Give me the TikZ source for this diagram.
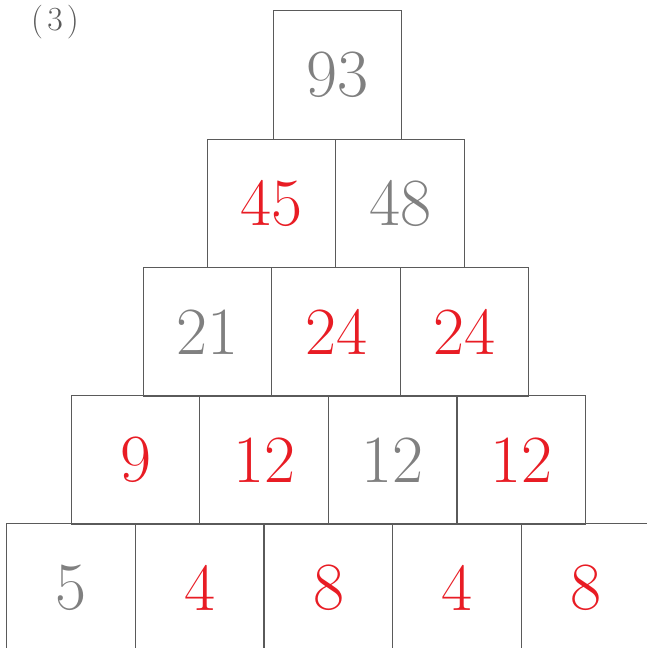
\documentclass[tikz,border=0pt]{standalone}
\usepackage{tikz}
\usetikzlibrary{positioning}
\definecolor{numgray}{RGB}{128, 128, 128}
\definecolor{numred}{RGB}{232, 28, 36}
\definecolor{linegray}{RGB}{90, 90, 90}
\tikzset{
  brick/.style={
    draw=linegray, line width=0.85pt,
    minimum width=3.2125cm,
    minimum height=3.2125cm,
    inner sep=0pt, outer sep=0pt,
    font=\fontsize{48}{48}\selectfont
  },
  given/.style={brick, text=numgray},
  found/.style={brick, text=numred}
}
\begin{document}
\begin{tikzpicture}[x=0.025cm, y=-0.025cm]
\useasboundingbox (0,0) rectangle (646,648);

% label
\node[font=\fontsize{24}{24}\selectfont, text=numgray!70!black] (tag) at (55, 22) {(\kern3pt3\kern3pt)};

% row 1 (top)
\node[given] (r1a) at (337.5, 75) {93};

% row 2
\node[found] (r2a) at (271.5, 203.5) {45};
\node[given] (r2b) at (400, 203.5) {48};

% row 3
\node[given] (r3a) at (207.5, 332) {21};
\node[found] (r3b) at (336, 332) {24};
\node[found] (r3c) at (464.5, 332) {24};

% row 4
\node[found] (r4a) at (135.5, 460) {9};
\node[found] (r4b) at (264, 460) {12};
\node[given] (r4c) at (392.5, 460) {12};
\node[found] (r4d) at (521.5, 460) {12};

% row 5 (bottom, runs off the page)
\node[given] (r5a) at (71, 588) {5};
\node[found] (r5b) at (199.5, 588) {4};
\node[found] (r5c) at (328.5, 588) {8};
\node[found] (r5d) at (457, 588) {4};
\node[found] (r5e) at (585.5, 588) {8};

\end{tikzpicture}
\end{document}
